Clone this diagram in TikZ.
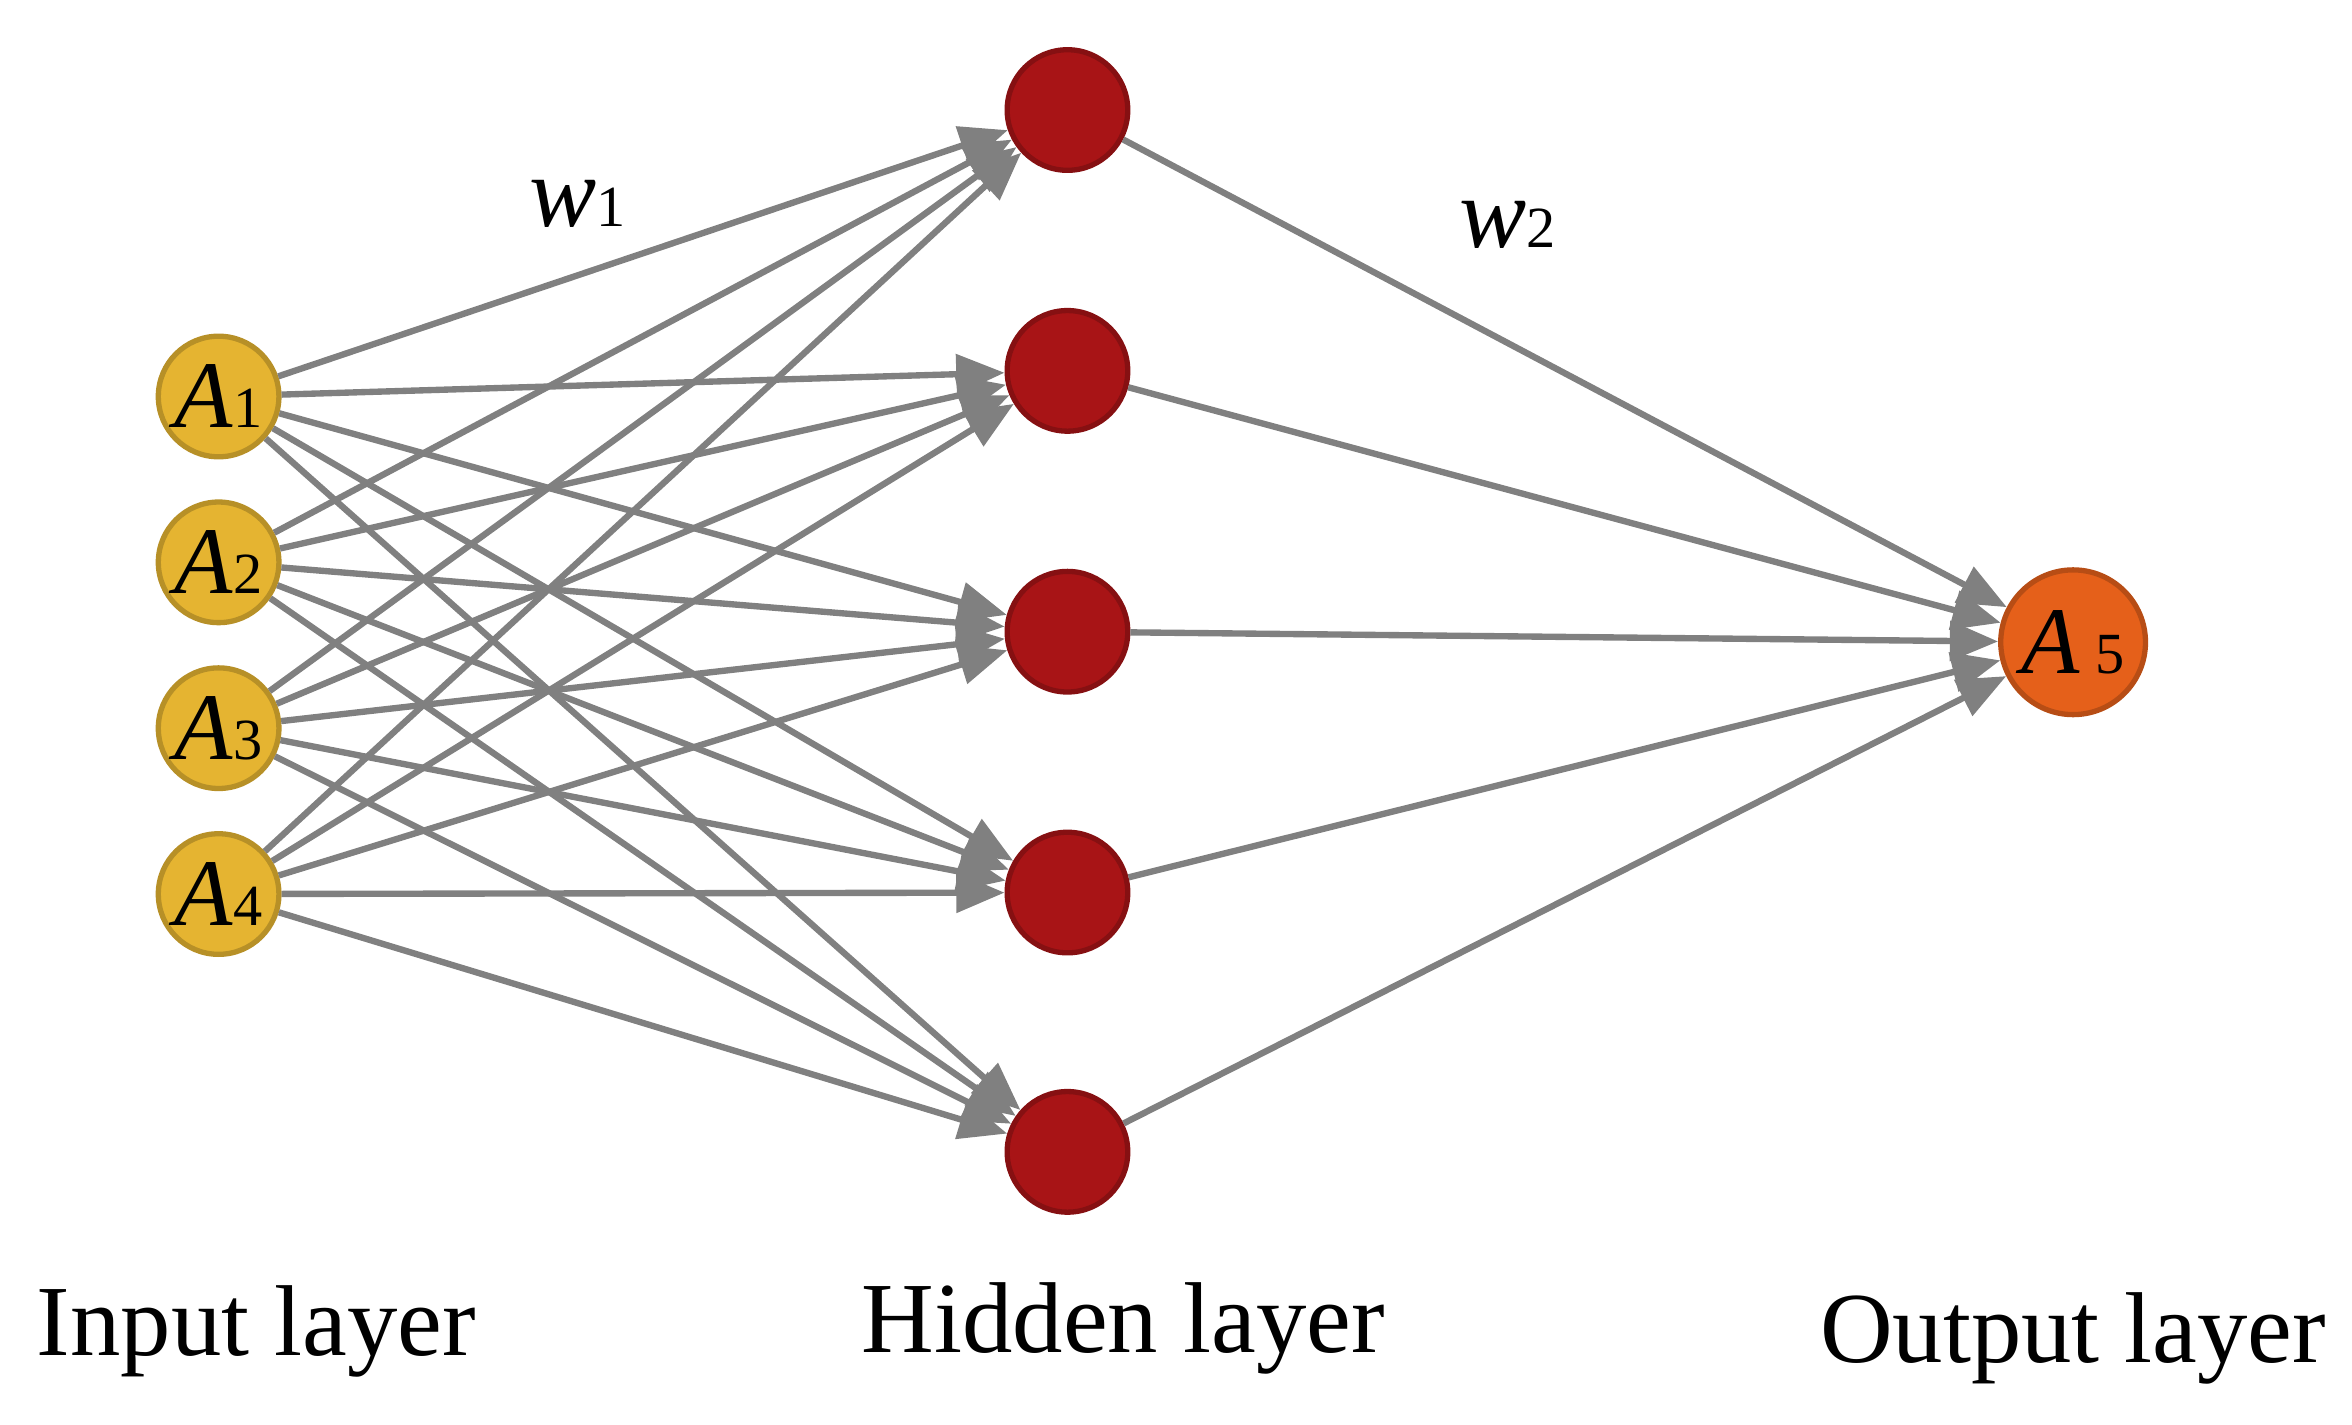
\documentclass[tikz,border=0pt]{standalone}
\usepackage{fontspec}
\setmainfont{Liberation Serif}
\usepackage{xcolor}
\usetikzlibrary{arrows.meta}
\definecolor{inyellow}{HTML}{E5B431}
\definecolor{hidred}{HTML}{A81416}
\definecolor{outorange}{HTML}{E5601A}
\tikzset{
  neuron/.style={circle, minimum size=0.8cm, inner sep=0pt, line width=1pt},
  link/.style={draw=gray, line width=1.2pt, -{Triangle[length=0.32cm,width=0.26cm]}},
  lbl/.style={font=\fontsize{19}{22}\selectfont},
  nlbl/.style={font=\fontsize{18}{20}\selectfont}
}
\newcommand{\idx}[1]{{\fontsize{11}{12}\selectfont #1}}
\begin{document}
\begin{tikzpicture}
    \useasboundingbox (0,0) rectangle (15.6,9.45);
    % Input layer
    \foreach \i/\y in {1/6.82,2/5.72,3/4.62,4/3.52} {
        \node[neuron, nlbl, fill=inyellow, draw=inyellow!80!black] (in\i) at (1.45,\y)
            {\textit{A}\idx{\i}};
    }
    % Hidden layer
    \foreach \j/\y in {1/8.72,2/6.99,3/5.26,4/3.53,5/1.81} {
        \node[neuron, fill=hidred, draw=hidred!80!black] (hid\j) at (7.08,\y) {};
    }
    % Output layer
    \node[neuron, nlbl, minimum size=0.96cm, fill=outorange, draw=outorange!80!black] (out) at (13.75,5.19)
        {\textit{A}\,\idx{5}};
    % Connections
    \foreach \i in {1,...,4} {
        \foreach \j in {1,...,5} {
            \draw[link] (in\i) -- (hid\j);
        }
    }
    \foreach \j in {1,...,5} {
        \draw[link] (hid\j) -- (out);
    }
    % Weights and layer names
    \node[lbl] (wone) at (3.83,8.1) {\textit{w}\idx{1}};
    \node[lbl] (wtwo) at (10.0,7.96) {\textit{w}\idx{2}};
    \node[lbl] (inlabel) at (1.70,0.62) {Input layer};
    \node[lbl] (hidlabel) at (7.45,0.64) {Hidden layer};
    \node[lbl] (outlabel) at (13.75,0.57) {Output layer};
\end{tikzpicture}
\end{document}
